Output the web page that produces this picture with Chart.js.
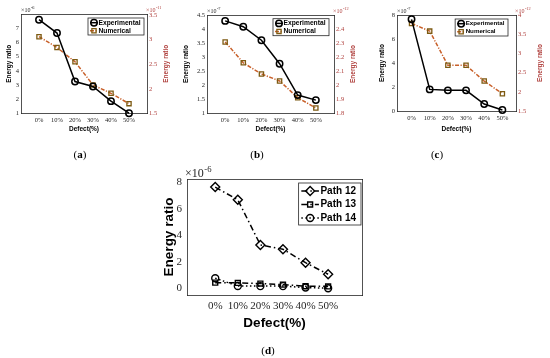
<!DOCTYPE html>
<html>
<head>
<meta charset="utf-8">
<script src="https://cdn.jsdelivr.net/npm/chart.js@4.4.0/dist/chart.umd.min.js"></script>
<style>
  body { margin: 0; background: #fff; width: 550px; height: 358px; position: relative; overflow: hidden; }
  canvas { position: absolute; }
  .cap { position: absolute; font-family: "Liberation Serif", serif; font-size: 11px; color: #000; transform: translate(-50%, -50%); }
</style>
</head>
<body>
<canvas id="ca" width="185" height="150" style="left:0;top:0"></canvas>
<canvas id="cb" width="190" height="150" style="left:180px;top:0"></canvas>
<canvas id="cc" width="190" height="150" style="left:360px;top:0"></canvas>
<canvas id="cd" width="260" height="185" style="left:130px;top:160px"></canvas>
<div class="cap" style="left:80px;top:154px">(<b>a</b>)</div>
<div class="cap" style="left:257px;top:154px">(<b>b</b>)</div>
<div class="cap" style="left:437px;top:154px">(<b>c</b>)</div>
<div class="cap" style="left:268px;top:350px">(<b>d</b>)</div>
<script>
// x categories
const defects = ["0%", "10%", "20%", "30%", "40%", "50%"];

// (a) experimental ×1e-6, numerical ×1e-11
const expA = [7.6, 6.66, 3.25, 2.9, 1.87, 1.02];
const numA = [3.06, 2.84, 2.55, 2.08, 1.91, 1.70];
// (b) experimental ×1e-7, numerical ×1e-12
const expB = [4.29, 4.08, 3.6, 2.76, 1.64, 1.46];
const numB = [2.31, 2.16, 2.08, 2.03, 1.91, 1.836];
// (c) experimental ×1e-7, numerical ×1e-12
const expC = [7.64, 1.8, 1.72, 1.72, 0.58, 0.08];
const numC = [3.78, 3.58, 2.69, 2.69, 2.28, 1.95];
// (d) paths ×1e-6
const path12 = [7.62, 6.66, 3.27, 2.94, 1.93, 1.06];
const path13 = [0.43, 0.41, 0.36, 0.28, 0.16, 0.15];
const path14 = [0.76, 0.18, 0.17, 0.17, 0.06, 0.01];

// tick labels
const ticksA = [1, 2, 3, 4, 5, 6, 7];
const ticksA2 = [1.5, 2, 2.5, 3, 3.5];
const ticksB = [1, 1.5, 2, 2.5, 3, 3.5, 4, 4.5];
const ticksB2 = [1.8, 1.9, 2, 2.1, 2.2, 2.3, 2.4];
const ticksC = [0, 2, 4, 6, 8];
const ticksC2 = [1.5, 2, 2.5, 3, 3.5, 4];
const ticksD = [0, 2, 4, 6, 8];

const EDGE = '#262626';
const RED = '#b0413e';
const SANS = '"Liberation Sans", Arial, sans-serif';
const SERIF = '"Liberation Serif", "Times New Roman", serif';

const pts = arr => arr.map((v, i) => ({ x: i, y: v }));

// exponent labels and the right-hand axis title
const deco = {
  id: 'deco',
  afterDraw(chart, args, o) {
    const { ctx, chartArea: a } = chart;
    ctx.save();
    const sup = (x, y, e, col) => {
      ctx.fillStyle = col;
      ctx.textAlign = 'left';
      ctx.textBaseline = 'alphabetic';
      ctx.font = o.expSize + 'px ' + SERIF;
      ctx.fillText('×10', x, y);
      const w = ctx.measureText('×10').width;
      ctx.font = (o.expSize * 0.72) + 'px ' + SERIF;
      ctx.fillText(e, x + w + 0.5, y - o.expSize * 0.42);
    };
    if (o.leftExp) sup(a.left + o.expDx, a.top - o.expDy, o.leftExp, EDGE);
    if (o.rightExp) sup(a.right - 1, a.top - o.expDy, o.rightExp, RED);
    if (o.rightTitle) {
      ctx.translate(a.right + o.rightTitleDx, (a.top + a.bottom) / 2);
      ctx.rotate(-Math.PI / 2);
      ctx.font = 'bold ' + o.titleSize + 'px ' + SANS;
      ctx.fillStyle = RED;
      ctx.textAlign = 'center';
      ctx.textBaseline = 'middle';
      ctx.fillText('Energy ratio', 0, 0);
    }
    ctx.restore();
  }
};

// boxed legend inside the plot, top right
const boxLegend = {
  id: 'boxLegend',
  afterDatasetsDraw(chart, args, o) {
    const { ctx, chartArea: a } = chart;
    const ds = chart.data.datasets;
    ctx.save();
    ctx.font = 'bold ' + o.size + 'px ' + SANS;
    const tw = Math.max(...ds.map(d => ctx.measureText(d.label).width));
    const w = o.padL + o.sym + o.gap + tw + o.padR;
    const h = o.padT + o.rowH * (ds.length - 1) + o.padB;
    const x0 = a.right - o.dx - w, y0 = a.top + o.dy;
    ctx.fillStyle = '#fff';
    ctx.fillRect(x0, y0, w, h);
    ctx.strokeStyle = EDGE;
    ctx.lineWidth = 0.8;
    ctx.strokeRect(x0, y0, w, h);
    ds.forEach((d, i) => {
      const cy = y0 + o.padT + i * o.rowH;
      const sx = x0 + o.padL;
      ctx.setLineDash(d.borderDash || []);
      ctx.strokeStyle = d.borderColor;
      ctx.lineWidth = d.borderWidth;
      ctx.beginPath(); ctx.moveTo(sx, cy); ctx.lineTo(sx + o.sym, cy); ctx.stroke();
      ctx.setLineDash([]);
      ctx.strokeStyle = d.pointBorderColor;
      ctx.fillStyle = d.pointBackgroundColor;
      ctx.lineWidth = d.pointBorderWidth;
      Chart.helpers.drawPoint(ctx, { pointStyle: d.pointStyle, radius: d.pointRadius, borderWidth: d.pointBorderWidth, rotation: 0 }, sx + o.sym / 2, cy);
      ctx.fillStyle = '#000';
      ctx.textAlign = 'left';
      ctx.textBaseline = 'middle';
      ctx.fillText(d.label, sx + o.sym + o.gap, cy);
    });
    ctx.restore();
  }
};

function panel(id, c) {
  const cv = document.getElementById(id);
  const W = cv.width, H = cv.height, A = c.area;
  const tickFont = { family: SERIF, size: c.tick };
  const titleFont = { family: SANS, size: c.title, weight: 'bold' };
  const fixed = arr => s => { s.ticks = arr.map(v => ({ value: v })); };

  const scales = {
    x: {
      type: 'linear', position: 'bottom', min: c.xr[0], max: c.xr[1],
      afterFit: s => { s.height = H - A.b; },
      afterBuildTicks: fixed(defects.map((_, i) => i)),
      grid: { display: false, drawTicks: false },
      border: { color: EDGE, width: 0.8 },
      ticks: { font: tickFont, color: EDGE, padding: c.xPad, maxRotation: 0, autoSkip: false, callback: v => defects[v] },
      title: { display: true, text: 'Defect(%)', font: titleFont, color: '#000', padding: { top: 0, bottom: c.xTitlePad } }
    },
    x2: {
      type: 'linear', axis: 'x', position: 'top',
      afterFit: s => { s.height = A.t; },
      grid: { display: false, drawTicks: false },
      border: { color: EDGE, width: 0.8 },
      ticks: { display: false }
    },
    y: {
      type: 'linear', position: 'left', min: c.y[0], max: c.y[1],
      afterFit: s => { s.width = A.l; },
      afterBuildTicks: fixed(c.yTicks),
      grid: { display: false, drawTicks: false },
      border: { color: EDGE, width: 0.8 },
      ticks: { font: tickFont, color: EDGE, padding: c.yPad, callback: v => String(v) },
      title: { display: true, text: 'Energy ratio', font: titleFont, color: '#000', padding: { top: c.yTitlePad, bottom: 0 } }
    },
    y2: {
      type: 'linear', position: 'right',
      afterFit: s => { s.width = W - A.r; },
      grid: { display: false, drawTicks: false },
      border: { color: EDGE, width: 0.8 },
      ticks: { display: false }
    }
  };
  if (c.y2) {
    scales.y2.min = c.y2[0];
    scales.y2.max = c.y2[1];
    scales.y2.afterBuildTicks = fixed(c.y2Ticks);
    scales.y2.ticks = { display: true, font: tickFont, color: RED, padding: c.yPad, callback: v => String(v) };
  }

  return new Chart(cv, {
    type: 'line',
    data: { datasets: c.datasets },
    options: {
      responsive: false,
      animation: false,
      devicePixelRatio: 1,
      layout: { padding: 0 },
      scales,
      plugins: {
        legend: { display: false },
        tooltip: { enabled: false },
        deco: c.deco,
        boxLegend: c.legend
      }
    },
    plugins: [deco, boxLegend]
  });
}

function expSet(data) {
  return {
    label: 'Experimental', data: pts(data), yAxisID: 'y',
    borderColor: '#000', borderWidth: 1.5,
    pointStyle: 'circle', pointRadius: 3.2, pointBorderWidth: 1.5,
    pointBorderColor: '#000', pointBackgroundColor: 'rgba(255,255,255,0)', clip: false
  };
}
function numSet(data) {
  return {
    label: 'Numerical', data: pts(data), yAxisID: 'y2',
    borderColor: '#c8602a', borderWidth: 1.5, borderDash: [4, 1.5, 1.2, 1.5],
    pointStyle: 'rect', pointRadius: 3, pointBorderWidth: 1.3,
    pointBorderColor: '#7d5a12', pointBackgroundColor: 'rgba(255,255,255,0)', clip: false
  };
}

const smallLegend = (dx, dy, size) => ({ size, dx, dy, padL: 2, sym: 8, gap: 0.5, padR: 3.5, padT: 4.7, rowH: 8, padB: 4.3 });
const topRow = { tick: 6.5, title: 6.5, xPad: 3, xTitlePad: 17, yPad: 2 };

panel('ca', Object.assign({}, topRow, {
  area: { l: 21, t: 14, r: 147, b: 113.5 },
  xr: [-1, 6], y: [1, 8], yTicks: ticksA, y2: [1.5, 3.52], y2Ticks: ticksA2,
  yTitlePad: 5.4,
  datasets: [expSet(expA), numSet(numA)],
  deco: { leftExp: '-6', rightExp: '-11', expSize: 6, expDx: 0, expDy: 2.5, rightTitle: true, rightTitleDx: 19.7, titleSize: 6.5 },
  legend: smallLegend(3, 4, 6.7)
}));

panel('cb', Object.assign({}, topRow, {
  area: { l: 27, t: 15, r: 154, b: 113 },
  xr: [-1, 6], y: [1, 4.5], yTicks: ticksB, y2: [1.8, 2.503], y2Ticks: ticksB2,
  yTitlePad: 2.8,
  datasets: [expSet(expB), numSet(numB)],
  deco: { leftExp: '-7', rightExp: '-12', expSize: 6, expDx: 0, expDy: 2.5, rightTitle: true, rightTitleDx: 19, titleSize: 6.5 },
  legend: smallLegend(5, 3.7, 6.7)
}));

panel('cc', Object.assign({}, topRow, {
  area: { l: 37, t: 15, r: 156, b: 111 },
  xr: [-0.8, 5.75], y: [0, 8], yTicks: ticksC, y2: [1.5, 4], y2Ticks: ticksC2,
  yTitlePad: 18.8,
  datasets: [expSet(expC), numSet(numC)],
  deco: { leftExp: '-7', rightExp: '-12', expSize: 6, expDx: 0, expDy: 2.5, rightTitle: true, rightTitleDx: 24, titleSize: 6.5 },
  legend: smallLegend(8, 4, 6.2)
}));

panel('cd', {
  tick: 11, title: 13.5, xPad: 5, xTitlePad: 13.5, yPad: 5,
  area: { l: 57, t: 19, r: 232, b: 135 },
  xr: [-1.25, 6.5], y: [-0.5, 8.23], yTicks: ticksD,
  yTitlePad: 31.2,
  datasets: [
    { label: 'Path 12', data: pts(path12), yAxisID: 'y', borderColor: '#000', borderWidth: 1.5, borderDash: [6, 3, 1.5, 3],
      pointStyle: 'rectRot', pointRadius: 4.5, pointBorderWidth: 1.4, pointBorderColor: '#000', pointBackgroundColor: 'rgba(255,255,255,0)', clip: false },
    { label: 'Path 13', data: pts(path13), yAxisID: 'y', borderColor: '#000', borderWidth: 1.5, borderDash: [6, 3, 1.5, 3],
      pointStyle: 'rect', pointRadius: 3.5, pointBorderWidth: 1.4, pointBorderColor: '#000', pointBackgroundColor: 'rgba(255,255,255,0)', clip: false },
    { label: 'Path 14', data: pts(path14), yAxisID: 'y', borderColor: '#000', borderWidth: 1.5, borderDash: [1.5, 2.5],
      pointStyle: 'circle', pointRadius: 3.5, pointBorderWidth: 1.4, pointBorderColor: '#000', pointBackgroundColor: 'rgba(255,255,255,0)', clip: false }
  ],
  deco: { leftExp: '-6', expSize: 12, expDx: -2, expDy: 2, rightTitle: false },
  legend: { size: 10, dx: 1, dy: 4, padL: 2.7, sym: 17.6, gap: 1.5, padR: 5, padT: 8, rowH: 13.5, padB: 7 }
});
</script>
</body>
</html>
